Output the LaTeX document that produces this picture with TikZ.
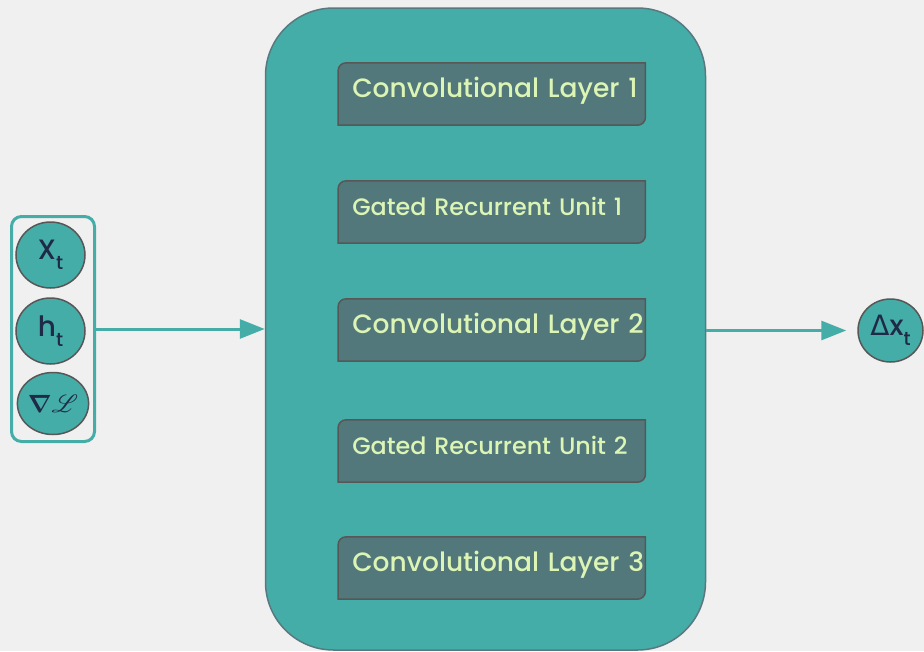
\documentclass[tikz,border=0pt]{standalone}
\usepackage{fontspec}
\setmainfont{Poppins}[UprightFont=* Medium]
\newfontfamily\symfont{DejaVu Sans}
\usepackage{amsmath}
\usepackage{mathrsfs}
\usetikzlibrary{arrows.meta,positioning,shapes.geometric}
\definecolor{bgcol}{HTML}{F0F0F0}
\definecolor{netteal}{HTML}{44ADA8}
\definecolor{netedge}{HTML}{597980}
\definecolor{layerfill}{HTML}{52787C}
\definecolor{layertext}{HTML}{DCF5B4}
\definecolor{edgegray}{HTML}{575757}
\definecolor{inktext}{HTML}{1F2A48}
\pgfdeclarelayer{background}
\pgfsetlayers{background,main}
\tikzset{
    var/.style={ellipse, draw=edgegray, line width=1.5pt, fill=netteal,
                minimum width=69pt, minimum height=66pt, inner sep=0pt,
                text=inktext, font=\fontsize{28}{28}\selectfont},
    layer/.style={minimum width=307pt, minimum height=62pt, text width=307pt,
                  inner xsep=0pt, inner ysep=0pt, align=left,
                  execute at begin node=\hspace*{14pt},
                  text height=34pt, text depth=28pt, text=layertext},
    conv/.style={layer, font=\fontsize{26.5}{26.5}\selectfont},
    gru/.style={layer, font=\fontsize{23.8}{23.8}\selectfont},
    layerbox/.style={fill=layerfill, draw=edgegray, line width=1.5pt},
    flow/.style={draw=netteal, line width=3pt,
                 -{Triangle[length=25pt,width=19pt]}},
}
\newcommand{\sub}[1]{\raisebox{-10pt}{\fontsize{19}{19}\selectfont #1}}
\begin{document}
\begin{tikzpicture}[x=1pt,y=1pt]
    % layers of the network
    \node[conv] (cl1)  at (491.75,-94)  {Convolutional Layer 1};
    \node[gru]  (gru1) at (491.75,-212) {Gated Recurrent Unit 1};
    \node[conv] (cl2)  at (491.75,-330) {Convolutional Layer 2};
    \node[gru]  (gru2) at (491.75,-451) {Gated Recurrent Unit 2};
    \node[conv] (cl3)  at (491.75,-568) {Convolutional Layer 3};

    % inputs
    \node[var] (xt)   at (50.5,-255)  {X\sub{t}};
    \node[var] (ht)   at (50.5,-331)  {h\sub{t}};
    \node[var, minimum height=62pt, font=\fontsize{25}{25}\selectfont] (grad)
        at (53,-403.5) {$\boldsymbol{\nabla}\mathscr{L}$};
    \node[draw=netteal, line width=3pt, rounded corners=10pt,
          minimum width=83pt, minimum height=225pt] (inputs) at (53,-329) {};

    % output
    \node[var, minimum width=65pt, minimum height=63pt] (dx) at (890.5,-330.5)
        {{\symfont Δ}x\sub{t}};

    \begin{pgfonlayer}{background}
        \path[fill=bgcol, use as bounding box] (0,0) rectangle (924,-651);
        \node[fill=netteal, draw=netedge, line width=1.5pt, rounded corners=68pt,
              minimum width=440pt, minimum height=642pt] (net) at (485.5,-329) {};
        \foreach \n in {cl1,gru1,cl2,gru2,cl3}
            \filldraw[layerbox] (\n.south west) -- ([yshift=-8pt]\n.north west)
                arc[start angle=180, end angle=90, radius=8pt]
                -- (\n.north east) -- ([yshift=8pt]\n.south east)
                arc[start angle=0, end angle=-90, radius=8pt] -- cycle;
    \end{pgfonlayer}

    \draw[flow] (inputs.east) -- (inputs.east -| net.west);
    \draw[flow, shorten >=11pt] (net.east |- dx.west) -- (dx.west);
\end{tikzpicture}
\end{document}
